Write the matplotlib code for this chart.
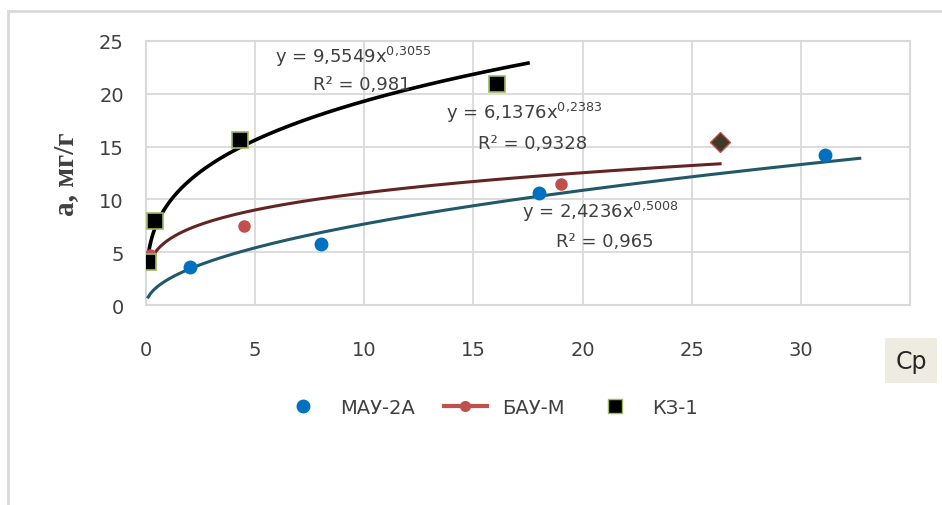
import numpy as np
import matplotlib.pyplot as plt
from matplotlib.lines import Line2D

# изотермы адсорбции: Ср -> а, мг/г
mau_x = [2.0, 8.0, 18.0, 31.1]
mau_y = [3.6, 5.8, 10.6, 14.2]
bau_x = [0.2, 4.5, 19.0, 26.3]
bau_y = [4.7, 7.5, 11.5, 15.4]
kz_x = [0.1, 0.4, 4.3, 16.1]
kz_y = [4.1, 8.0, 15.6, 20.9]

# степенные линии тренда y = a*x^b
trend_mau = (2.4236, 0.5008, 0.1, 32.7)
trend_bau = (6.1376, 0.2383, 0.2, 26.3)
trend_kz = (9.5549, 0.3055, 0.1, 17.5)

xticks = [0, 5, 10, 15, 20, 25, 30]
yticks = [0, 5, 10, 15, 20, 25]

txt = '#404040'
narrow = ['Liberation Sans Narrow', 'DejaVu Sans']

fig = plt.figure(figsize=(9.42, 5.06), dpi=100)
ax = fig.add_axes([0.155, 0.395, 0.811, 0.522])

def trend(a, b, x0, x1):
    x = np.linspace(x0, x1, 300)
    return x, a * x**b

for (a, b, x0, x1), col in [(trend_mau, '#215968'), (trend_bau, '#632523'), (trend_kz, 'black')]:
    x, y = trend(a, b, x0, x1)
    ax.plot(x, y, color=col, lw=2.6 if col == 'black' else 2.2, zorder=3)

ax.plot(mau_x, mau_y, 'o', color='#0070c0', ms=9, zorder=4)
ax.plot(bau_x[:-1], bau_y[:-1], 'o', color='#c0504d', ms=8, zorder=4)
ax.plot(bau_x[-1:], bau_y[-1:], 'D', color='#403a26', mec='#c0504d', mew=1, ms=10, zorder=4)
ax.plot(kz_x, kz_y, 's', color='black', mec='#9bbb59', mew=1.2, ms=11, zorder=5)

ax.set_xlim(0, 35)
ax.set_ylim(0, 25)
ax.set_xticks(xticks)
ax.set_yticks(yticks)
ax.grid(True, color='#d9d9d9', lw=1.3)
ax.set_axisbelow(True)
for s in ax.spines.values():
    s.set_color('#d9d9d9')
    s.set_linewidth(1.5)
ax.tick_params(length=0, labelsize=14, labelcolor=txt)
ax.tick_params(axis='x', pad=25)
ax.tick_params(axis='y', pad=16)
for lab in ax.get_xticklabels() + ax.get_yticklabels():
    lab.set_family(narrow)

ax.set_ylabel('а, мг/г', family=['Liberation Serif', 'DejaVu Serif'], fontsize=21,
              fontweight='bold', color=txt, labelpad=14)

eq = dict(family=narrow, fontsize=13, color=txt, ha='center', va='center')
ax.text(9.5, 23.6, 'y = 9,5549x$^{0{,}3055}$', **eq)
ax.text(9.9, 20.9, 'R² = 0,981', **eq)
ax.text(17.3, 18.3, 'y = 6,1376x$^{0{,}2383}$', **eq)
ax.text(17.7, 15.3, 'R² = 0,9328', **eq)
ax.text(20.8, 8.9, 'y = 2,4236x$^{0{,}5008}$', **eq)
ax.text(21.0, 6.1, 'R² = 0,965', **eq)

fig.text(0.967, 0.285, 'Ср', family=narrow, fontsize=17, color='#262626', ha='center',
         va='center', bbox=dict(boxstyle='square,pad=0.45', fc='#eeece1', ec='none'))

handles = [
    Line2D([], [], ls='none', marker='o', color='#0070c0', ms=9),
    Line2D([], [], color='#c0504d', lw=3, marker='o', ms=7),
    Line2D([], [], ls='none', marker='s', color='black', mec='#9bbb59', ms=10),
]
leg = fig.legend(handles, ['МАУ-2А', 'БАУ-М', 'КЗ-1'], loc='center', ncol=3,
                 bbox_to_anchor=(0.52, 0.193), frameon=False, handlelength=2.2,
                 columnspacing=1.5, prop={'family': narrow, 'size': 14})
for t in leg.get_texts():
    t.set_color(txt)

# рамка области диаграммы
fig.add_artist(Line2D([0.0085, 1.0], [0.976, 0.976], color='#d9d9d9', lw=2))
fig.add_artist(Line2D([0.0085, 0.0085], [0.0, 0.976], color='#d9d9d9', lw=2))

fig.savefig('out.png', dpi=100)
